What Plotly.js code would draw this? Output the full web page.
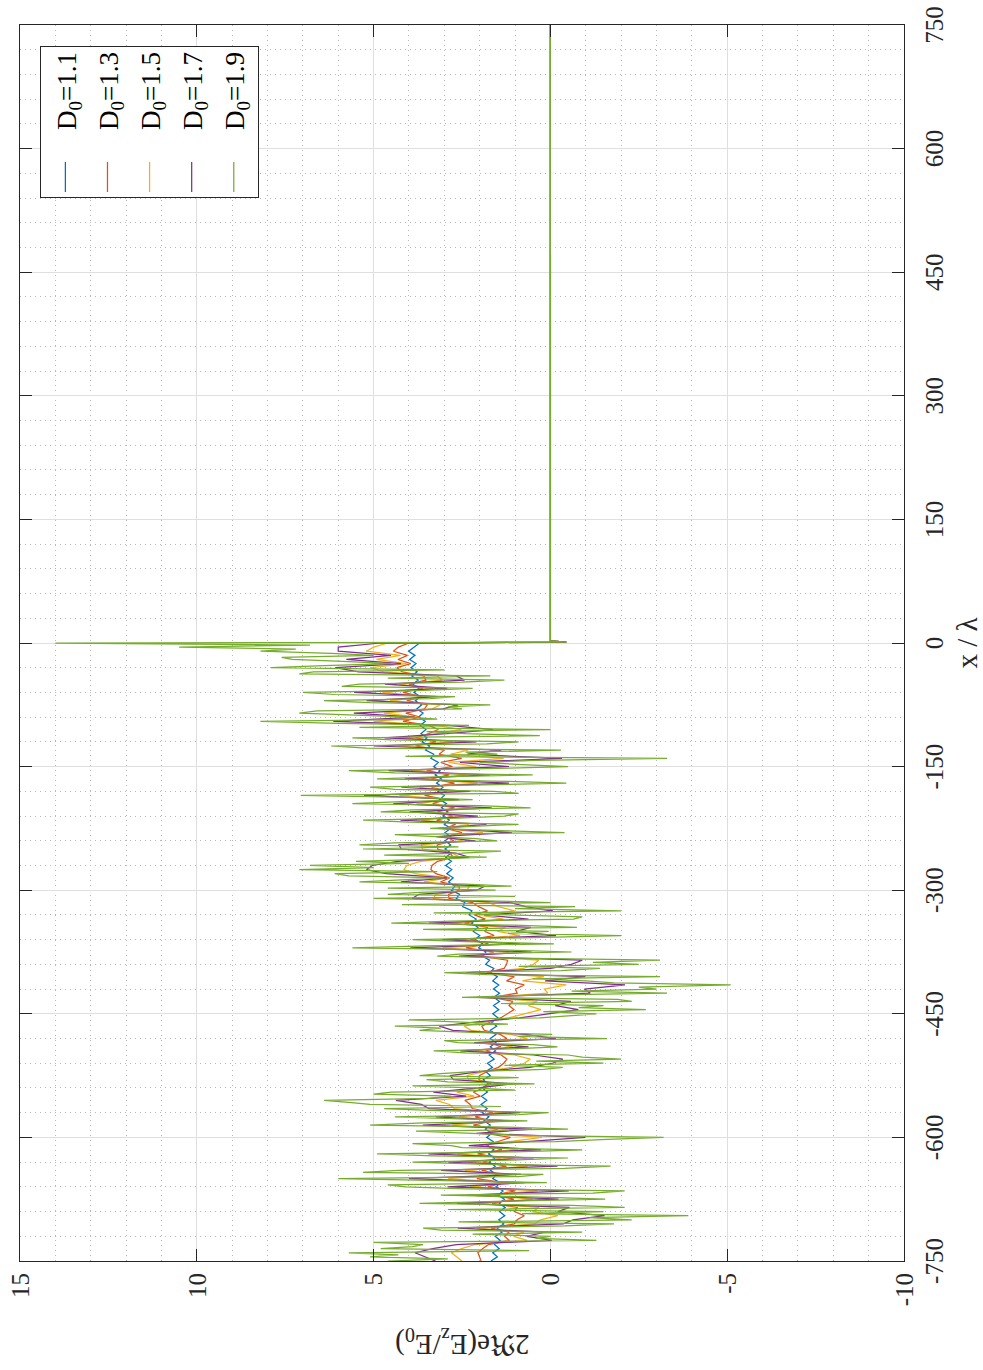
<!DOCTYPE html>
<html>
<head>
<meta charset="utf-8">
<script src="https://cdn.plot.ly/plotly-3.0.1.min.js"></script>
<style>
  html, body { margin: 0; padding: 0; background: #ffffff; width: 983px; height: 1370px; overflow: hidden; }
  /* The figure is laid out landscape and turned a quarter turn counter-clockwise onto the portrait page. */
  #fig { position: absolute; left: 0; top: 0; width: 1370px; height: 983px;
         transform-origin: 0 0; transform: translateY(1370px) rotate(-90deg); }
</style>
</head>
<body>
<div id="fig"></div>
<script>
// Sampling grid on the illuminated side, x/λ from -750 to 0 in steps of 5
const LAMBDA_START = -750, LAMBDA_STEP = 5, LAMBDA_COUNT = 151;
const lambdaNeg = [];
for (let i = 0; i < LAMBDA_COUNT; i++) lambdaNeg.push(LAMBDA_START + i * LAMBDA_STEP);
// D0 = 1.9 is also sampled half-way between those points
const lambdaMid = lambdaNeg.slice(0, LAMBDA_COUNT - 1).map(v => v + LAMBDA_STEP / 2);

// Shadow side: the field drops through the edge and stays at zero
const lambdaTail = [1, 2.5, 750];
const tailValues = [-0.45, 0, 0];

const seriesNames = ['D<sub>0</sub>=1.1', 'D<sub>0</sub>=1.3', 'D<sub>0</sub>=1.5', 'D<sub>0</sub>=1.7', 'D<sub>0</sub>=1.9'];

// 2Re(Ez/E0) on the lambdaNeg grid, one array per D0
const field11 = [
  1.68, 1.50, 1.63, 1.45, 1.58, 1.42, 1.56, 1.37, 1.50, 1.32,
  1.46, 1.29, 1.44, 1.28, 1.45, 1.30, 1.48, 1.34, 1.53, 1.42,
  1.63, 1.52, 1.70, 1.56, 1.73, 1.58, 1.75, 1.60, 1.78, 1.62,
  1.80, 1.66, 1.84, 1.70, 1.88, 1.74, 1.93, 1.79, 1.96, 1.80,
  1.95, 1.78, 1.93, 1.76, 1.90, 1.70, 1.83, 1.64, 1.78, 1.59,
  1.73, 1.55, 1.70, 1.54, 1.70, 1.54, 1.70, 1.52, 1.66, 1.48,
  1.63, 1.46, 1.61, 1.44, 1.60, 1.44, 1.61, 1.46, 1.63, 1.50,
  1.70, 1.60, 1.83, 1.72, 1.93, 1.82, 2.03, 1.92, 2.13, 2.00,
  2.18, 2.05, 2.23, 2.10, 2.30, 2.22, 2.48, 2.42, 2.66, 2.57,
  2.80, 2.70, 2.88, 2.75, 2.93, 2.79, 2.96, 2.80, 2.96, 2.81,
  2.98, 2.82, 2.98, 2.82, 2.98, 2.82, 3.00, 2.86, 3.04, 2.90,
  3.08, 2.94, 3.13, 3.00, 3.18, 3.04, 3.22, 3.08, 3.26, 3.12,
  3.30, 3.17, 3.38, 3.30, 3.53, 3.42, 3.63, 3.49, 3.66, 3.52,
  3.68, 3.54, 3.73, 3.60, 3.78, 3.64, 3.82, 3.68, 3.86, 3.72,
  3.89, 3.74, 3.92, 3.77, 3.94, 3.80, 3.98, 3.83, 4.01, 3.87,
  3.70
];
const field13 = [
  1.96, 2.00, 2.05, 1.92, 1.75, 1.16, 1.30, 1.17, 1.68, 1.02,
  0.94, 0.74, 1.02, 0.94, 1.65, 1.03, 1.60, 1.00, 1.77, 1.33,
  2.08, 1.43, 1.94, 1.24, 1.92, 1.40, 2.06, 1.37, 1.83, 1.48,
  1.13, 1.82, 1.49, 2.18, 1.66, 2.13, 1.63, 2.21, 2.27, 2.42,
  1.98, 2.18, 1.89, 1.67, 2.02, 2.01, 1.79, 1.47, 1.32, 1.23,
  1.39, 1.83, 1.40, 1.74, 1.23, 1.42, 1.87, 1.94, 1.70, 1.41,
  1.21, 1.03, 1.17, 1.06, 1.64, 0.94, 0.99, 0.74, 1.24, 1.02,
  1.79, 1.31, 1.24, 1.21, 2.01, 1.60, 2.39, 1.75, 2.27, 1.59,
  1.85, 1.78, 2.43, 1.84, 2.15, 1.78, 2.03, 2.20, 2.87, 2.88,
  2.58, 2.58, 3.11, 2.85, 3.24, 3.38, 3.35, 3.19, 2.75, 2.84,
  3.19, 3.20, 2.73, 2.97, 2.50, 2.96, 2.68, 3.22, 2.76, 3.20,
  2.71, 3.33, 2.95, 3.56, 2.92, 3.36, 2.71, 3.37, 2.86, 3.50,
  2.77, 3.10, 2.51, 3.15, 3.00, 3.82, 3.23, 3.81, 3.44, 3.17,
  3.44, 4.17, 3.69, 4.09, 3.56, 3.48, 4.06, 3.63, 4.17, 3.61,
  4.00, 3.52, 3.58, 4.19, 4.34, 3.95, 4.31, 4.04, 4.44, 4.30,
  4.00
];
const field15 = [
  2.50, 2.64, 2.80, 2.51, 2.13, 0.66, 1.04, 0.75, 2.07, 0.44,
  0.28, -0.21, 0.50, 0.32, 2.07, 0.50, 1.91, 0.36, 2.25, 1.08,
  2.89, 1.18, 2.42, 0.64, 2.33, 1.01, 2.64, 0.91, 2.03, 1.15,
  0.24, 1.94, 1.08, 2.78, 1.46, 2.59, 1.31, 2.72, 2.85, 3.24,
  2.15, 2.65, 1.96, 1.42, 2.32, 2.36, 1.86, 1.10, 0.74, 0.57,
  1.01, 2.13, 1.07, 1.91, 0.65, 1.12, 2.24, 2.44, 1.89, 1.18,
  0.70, 0.27, 0.62, 0.37, 1.81, 0.07, 0.17, -0.45, 0.79, 0.18,
  2.03, 0.76, 0.48, 0.33, 2.26, 1.15, 3.05, 1.37, 2.61, 0.86,
  1.49, 1.27, 2.86, 1.33, 2.03, 1.01, 1.47, 1.75, 3.31, 3.24,
  2.37, 2.28, 3.58, 2.88, 3.83, 4.14, 4.06, 3.67, 2.56, 2.77,
  3.62, 3.65, 2.48, 3.08, 1.91, 3.05, 2.31, 3.65, 2.46, 3.53,
  2.27, 3.79, 2.80, 4.27, 2.65, 3.71, 2.06, 3.68, 2.38, 3.95,
  2.10, 2.88, 1.32, 2.82, 2.33, 4.31, 2.76, 4.18, 3.23, 2.52,
  3.21, 4.99, 3.76, 4.71, 3.34, 3.11, 4.54, 3.44, 4.75, 3.32,
  4.29, 3.06, 3.20, 4.71, 5.07, 4.07, 4.92, 4.24, 5.21, 5.00,
  4.60
];
const field17 = [
  3.25, 3.52, 3.83, 3.33, 2.66, -0.04, 0.67, 0.16, 2.62, -0.36,
  -0.64, -1.53, -0.21, -0.54, 2.65, -0.23, 2.34, -0.52, 2.91, 0.73,
  4.00, 0.83, 3.09, -0.20, 2.89, 0.47, 3.45, 0.26, 2.31, 0.68,
  -0.99, 2.10, 0.52, 3.61, 1.17, 3.24, 0.86, 3.43, 3.65, 4.37,
  2.38, 3.31, 2.04, 1.08, 2.74, 2.84, 1.94, 0.58, -0.06, -0.35,
  0.47, 2.55, 0.62, 2.16, -0.15, 0.70, 2.76, 3.14, 2.14, 0.87,
  -0.02, -0.79, -0.14, -0.58, 2.06, -1.13, -0.96, -2.11, 0.15, -0.99,
  2.38, -0.01, -0.59, -0.90, 2.59, 0.53, 3.96, 0.85, 3.07, -0.16,
  0.97, 0.55, 3.44, 0.62, 1.88, -0.07, 0.70, 1.13, 3.91, 3.72,
  2.08, 1.86, 4.23, 2.92, 4.64, 5.20, 5.04, 4.32, 2.29, 2.68,
  4.22, 4.28, 2.13, 3.23, 1.09, 3.18, 1.81, 4.24, 2.05, 3.98,
  1.66, 4.44, 2.58, 5.27, 2.28, 4.21, 1.17, 4.12, 1.71, 4.58,
  1.17, 2.56, -0.33, 2.35, 1.39, 4.99, 2.09, 4.69, 2.93, 1.62,
  2.89, 6.14, 3.84, 5.56, 3.04, 2.61, 5.20, 3.18, 5.55, 2.92,
  4.68, 2.43, 2.66, 5.42, 6.08, 4.22, 5.77, 4.51, 6.00, 6.00,
  4.80
];
const field19 = [
  4.6, 5.1, 5.7, 4.8, 3.6, -1.3, 0.0, -0.9, 3.6, -1.8,
  -2.3, -3.9, -1.5, -2.1, 3.7, -1.55, 3.1, -2.1, 4.1, 0.1,
  6.0, 0.2, 4.3, -1.7, 3.9, -0.5, 4.9, -0.9, 2.8, -0.15,
  -3.2, 2.4, -0.5, 5.1, 0.65, 4.4, 0.05, 4.7, 5.1, 6.4,
  2.8, 4.5, 2.2, 0.45, 3.5, 3.7, 2.1, -0.35, -1.5, -2.0,
  -0.5, 3.3, -0.2, 2.6, -1.6, -0.05, 3.7, 4.4, 2.6, 0.3,
  -1.3, -2.7, -1.5, -2.3, 2.5, -3.3, -3.0, -5.1, -1.0, -3.1,
  3.0, -1.4, -2.5, -3.1, 3.2, -0.6, 5.6, -0.1, 3.9, -2.0,
  0.05, -0.75, 4.5, -0.65, 1.6, -2.0, -0.7, 0.0, 5.0, 4.6,
  1.55, 1.1, 5.4, 3.0, 6.1, 7.1, 6.8, 5.5, 1.8, 2.5,
  5.3, 5.4, 1.5, 3.5, -0.4, 3.4, 0.9, 5.3, 1.3, 4.8,
  0.56, 5.6, 2.2, 7.06, 1.6, 5.1, -0.45, 4.9, 0.5, 5.7,
  -0.5, 2.0, -3.3, 1.5, -0.3, 6.2, 0.9, 5.6, 2.4, 0.0,
  2.3, 8.2, 4.0, 7.1, 2.5, 1.7, 6.4, 2.7, 7.0, 2.2,
  5.4, 1.3, 1.7, 6.7, 7.9, 4.5, 7.3, 5.0, 8.2, 10.5,
  14.0
];
// D0 = 1.9 at the half-way points (lambdaMid)
const field19Mid = [
  2.9, 4.3, 0.6, 3.9, 5.0, 0.4, 2.2, 3.1, -0.4, 2.6,
  -1.1, 0.8, 2.9, -0.6, 1.5, 0.3, -1.2, 2.4, 4.6, 2.9,
  0.9, 5.3, -0.4, 2.0, 1.1, 3.3, 1.0, 2.5, 3.9, -1.6,
  0.8, 3.8, 1.2, 3.6, 2.6, 0.9, 3.2, 1.4, 5.7, 3.4,
  5.0, 1.0, 3.9, 2.9, 0.9, 3.1, 0.2, 1.3, 0.4, -0.9,
  2.4, 1.1, 0.5, 3.0, 0.9, 2.2, 3.1, 1.2, 4.0, -0.4,
  0.2, -0.8, 1.4, -1.9, 0.7, -0.6, -2.5, -1.8, 0.5, 1.8,
  -0.3, 0.9, -1.2, 1.0, 2.6, 1.4, 3.5, 2.4, 0.5, 1.2,
  3.6, 1.0, 2.8, -0.9, 3.3, 1.0, 4.2, 2.1, 1.0, 3.7,
  4.6, 2.4, 4.1, 5.7, 3.2, 5.0, 4.0, 3.6, 4.7, 1.4,
  2.6, 4.4, 2.1, 4.4, 1.5, 2.2, 4.0, 2.6, 0.9, 3.9,
  2.0, 4.2, 3.9, 0.9, 4.4, 2.3, 1.6, 3.2, 4.4, 1.8,
  0.8, 0.4, 4.1, 2.4, 5.2, 1.8, 4.5, 0.3, 3.5, 5.4,
  6.0, 3.2, 5.5, 6.6, 2.9, 5.1, 3.4, 6.1, 3.6, 5.9,
  2.5, 4.6, 7.1, 3.0, 6.4, 5.7, 7.6, 6.2, 7.2, 6.8
];

// Axis ticks (hyphen-minus labels)
const xTickVals = [-750, -600, -450, -300, -150, 0, 150, 300, 450, 600, 750];
const xTickText = ['-750', '-600', '-450', '-300', '-150', '0', '150', '300', '450', '600', '750'];
const yTickVals = [-10, -5, 0, 5, 10, 15];
const yTickText = ['-10', '-5', '0', '5', '10', '15'];
const yTitleText = '2ℜe(E<sub>z</sub>/E<sub>0</sub>)';

const colors = ['#0072BD', '#D95319', '#EDB120', '#7E2F8E', '#77AC30'];

// Merge the D0 = 1.9 samples into one ordered run
const lambdaFine = [], field19Fine = [];
for (let i = 0; i < LAMBDA_COUNT; i++) {
  lambdaFine.push(lambdaNeg[i]); field19Fine.push(field19[i]);
  if (i < field19Mid.length) { lambdaFine.push(lambdaMid[i]); field19Fine.push(field19Mid[i]); }
}

const runs = [
  { x: lambdaNeg, y: field11 },
  { x: lambdaNeg, y: field13 },
  { x: lambdaNeg, y: field15 },
  { x: lambdaNeg, y: field17 },
  { x: lambdaFine, y: field19Fine }
];

const SPACER = '\u00a0\u00a0\u00a0\u00a0';
const traces = runs.map((r, k) => ({
  type: 'scatter',
  mode: 'lines',
  name: SPACER + seriesNames[k],
  legendgroup: 'g' + k,
  x: r.x.concat(lambdaTail),
  y: r.y.concat(tailValues),
  line: { color: colors[k], width: 1.25 }
}));

const FONT = "'Liberation Serif', 'Times New Roman', Times, serif";
const AXIS_COLOR = '#262626';

const layout = {
  width: 1370,
  height: 983,
  margin: { l: 109, r: 25, t: 20, b: 79 },
  paper_bgcolor: '#ffffff',
  plot_bgcolor: '#ffffff',
  font: { family: FONT, size: 25, color: AXIS_COLOR },
  showlegend: true,
  legend: {
    x: 0.983, xanchor: 'right', y: 0.977, yanchor: 'top',
    bgcolor: '#ffffff', bordercolor: AXIS_COLOR, borderwidth: 1,
    font: { family: FONT, size: 27, color: '#000000' },
    itemwidth: 30, tracegroupgap: 4
  },
  xaxis: {
    range: [-750, 750],
    tickmode: 'array', tickvals: xTickVals, ticktext: xTickText,
    tickfont: { family: FONT, size: 25, color: AXIS_COLOR },
    ticks: 'inside', ticklen: 12, tickwidth: 1, tickcolor: AXIS_COLOR,
    showline: true, mirror: 'ticks', linecolor: AXIS_COLOR, linewidth: 1,
    showgrid: true, gridcolor: '#dfdfdf', gridwidth: 1,
    zeroline: false,
    ticklabelstandoff: 8,
    minor: { tickmode: 'linear', tick0: -750, dtick: 30, showgrid: true,
             gridcolor: '#b8b8b8', griddash: '1px,4px', gridwidth: 1, ticks: '' },
    title: { text: 'x / λ', font: { family: FONT, size: 29, color: AXIS_COLOR }, standoff: 10 }
  },
  yaxis: {
    range: [-10, 15],
    tickmode: 'array', tickvals: yTickVals, ticktext: yTickText,
    tickfont: { family: FONT, size: 25, color: AXIS_COLOR },
    ticks: 'inside', ticklen: 12, tickwidth: 1, tickcolor: AXIS_COLOR,
    showline: true, mirror: 'ticks', linecolor: AXIS_COLOR, linewidth: 1,
    showgrid: true, gridcolor: '#dfdfdf', gridwidth: 1,
    zeroline: false,
    ticklabelstandoff: 6,
    minor: { tickmode: 'linear', tick0: -10, dtick: 1, showgrid: true,
             gridcolor: '#b8b8b8', griddash: '1px,4px', gridwidth: 1, ticks: '' }
  },
  // Vertical axis label, set a little further out than the default title position
  annotations: [{
    xref: 'paper', yref: 'paper', x: -0.066, y: 0.5,
    xanchor: 'center', yanchor: 'middle', textangle: -90, showarrow: false,
    text: yTitleText, font: { family: FONT, size: 29, color: AXIS_COLOR }
  }]
};

Plotly.newPlot('fig', traces, layout, { staticPlot: true, displayModeBar: false });
</script>
</body>
</html>
